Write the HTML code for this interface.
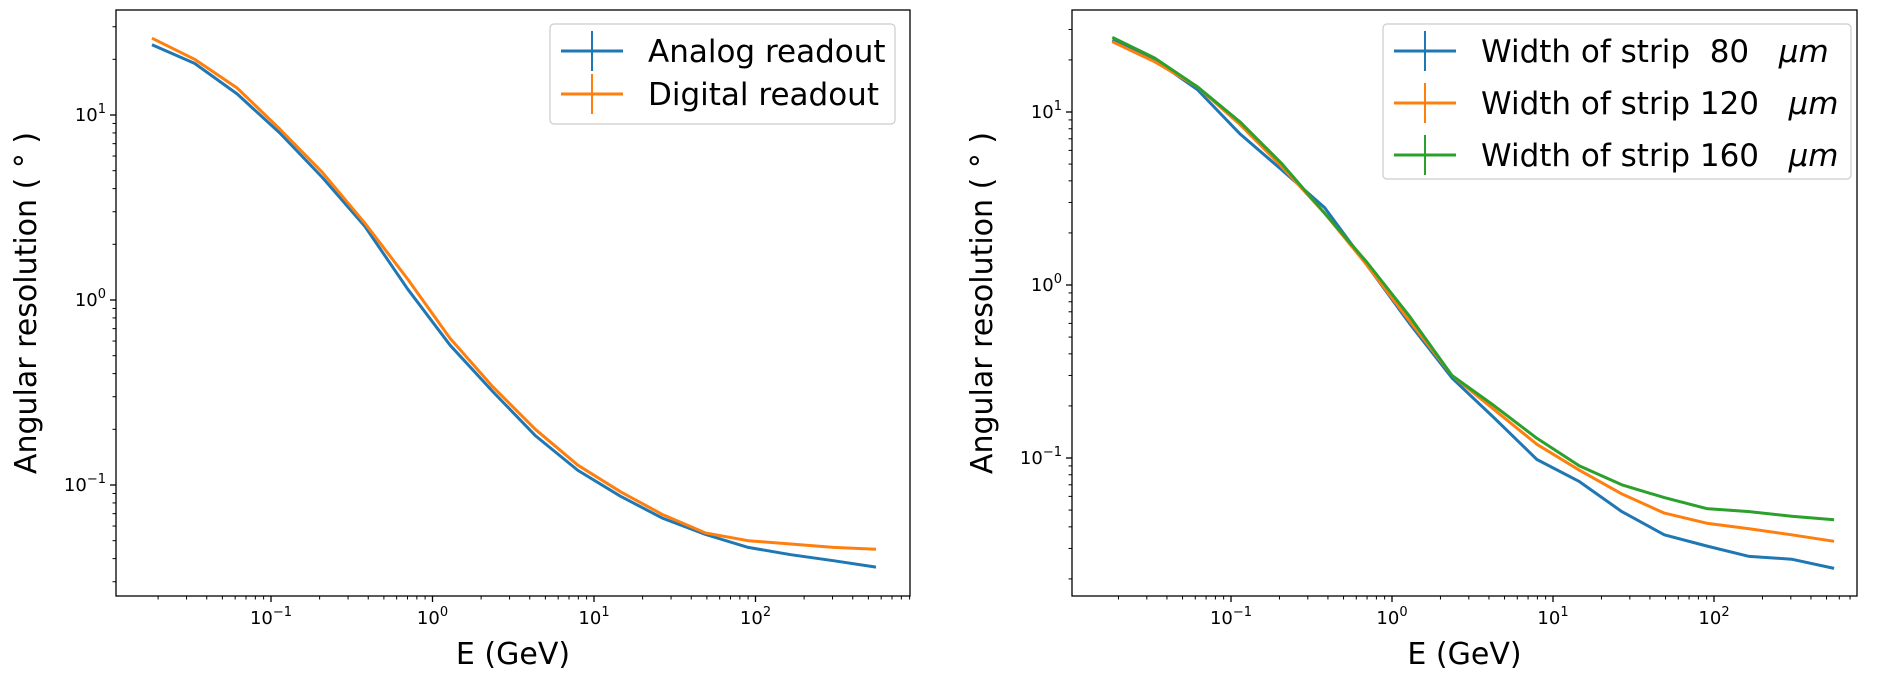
<!DOCTYPE html>
<html><head><meta charset="utf-8"><style>
html,body{margin:0;padding:0;background:#fff;}
svg{display:block;font-family:"DejaVu Sans","Liberation Sans",sans-serif;}
</style></head><body>
<svg id="s" width="1893" height="692" viewBox="0 0 1893 692" xmlns="http://www.w3.org/2000/svg"></svg>
<script>
const S=document.getElementById('s');let h='';
const ks=[...Array(18).keys()].map(k=>-1.737+k*0.2637);
function panel(o){
 const {L,R,T,B,x0,dx,y0,dy,series,leg}=o;
 const X=l=>x0+dx*l, Y=v=>y0-dy*Math.log10(v);
 h+=`<clipPath id="c${L}"><rect x="${L}" y="${T}" width="${R-L}" height="${B-T}"/></clipPath>`;
 h+=`<g clip-path="url(#c${L})">`;
 for(const s of series){
  const p=s.v.map((v,i)=>`${X(ks[i]).toFixed(1)},${Y(v).toFixed(1)}`).join(' ');
  h+=`<polyline points="${p}" fill="none" stroke="${s.c}" stroke-width="3" stroke-linejoin="round"/>`;
 }
 h+='</g>';
 for(let d=-2;d<=3;d++){for(let m=1;m<10;m++){const x=X(d+Math.log10(m));if(x<L||x>R)continue;
  const len=m==1?6:3.5;h+=`<line x1="${x}" y1="${B}" x2="${x}" y2="${B+len}" stroke="#000" stroke-width="${m==1?1.3:1}"/>`;
  if(m==1&&d>=-1&&d<=2){h+=`<text x="${x}" y="${B+28}" font-size="18" text-anchor="middle">10<tspan font-size="13" dy="-8">${d<0?'−1':d}</tspan></text>`;}}}
 for(let d=-3;d<=2;d++){for(let m=1;m<10;m++){const y=Y(m*Math.pow(10,d));if(y<T||y>B)continue;
  const len=m==1?6:3.5;h+=`<line x1="${L}" y1="${y}" x2="${L-len}" y2="${y}" stroke="#000" stroke-width="${m==1?1.3:1}"/>`;
  if(m==1){h+=`<text x="${L-10}" y="${y+6}" font-size="18" text-anchor="end">10<tspan font-size="13" dy="-8">${d<0?'−1':d}</tspan></text>`;}}}
 h+=`<rect x="${L}" y="${T}" width="${R-L}" height="${B-T}" fill="none" stroke="#000" stroke-width="1.3"/>`;
 h+=`<text x="${(L+R)/2}" y="664" font-size="30" text-anchor="middle">E (GeV)</text>`;
 const cy=(T+B)/2;h+=`<text transform="translate(${L-80},${cy}) rotate(-90)" font-size="30" text-anchor="middle">Angular resolution ( ° )</text>`;
 const [lx,ly,lw,lh]=leg.box;
 h+=`<rect x="${lx}" y="${ly}" width="${lw}" height="${lh}" rx="4" fill="#fff" stroke="#ccc" stroke-width="1.2"/>`;
 series.forEach((s,i)=>{const y=ly+27+i*leg.step;
  h+=`<line x1="${lx+11}" y1="${y}" x2="${lx+73}" y2="${y}" stroke="${s.c}" stroke-width="3"/>`;
  h+=`<line x1="${lx+42}" y1="${y-20}" x2="${lx+42}" y2="${y+20}" stroke="${s.c}" stroke-width="2"/>`;
  h+=`<text x="${lx+98}" y="${y+11}" font-size="31" xml:space="preserve">${s.n}</text>`;});
}
const B='#1f77b4',O='#ff7f0e',G='#2ca02c';
panel({L:116,R:910,T:10,B:596,x0:432.5,dx:161.5,y0:300,dy:185,
 series:[{c:B,n:'Analog readout',v:[24,19,13,8,4.6,2.5,1.15,0.57,0.32,0.185,0.12,0.087,0.066,0.054,0.046,0.042,0.039,0.036]},
 {c:O,n:'Digital readout',v:[26,20,14,8.4,4.9,2.6,1.3,0.62,0.34,0.2,0.128,0.092,0.069,0.055,0.05,0.048,0.046,0.045]}],
 leg:{box:[550,24,345,100],step:43}});
panel({L:1072,R:1857,T:10,B:596,x0:1392,dx:161,y0:285,dy:173,
 series:[{c:B,n:'Width of strip&#160;&#160;80&#160;&#160;&#160;<tspan font-style="italic">μm</tspan>',v:[26,20,13.5,7.5,4.6,2.8,1.3,0.6,0.29,0.17,0.098,0.073,0.049,0.036,0.031,0.027,0.026,0.023]},
 {c:O,n:'Width of strip 120&#160;&#160;&#160;<tspan font-style="italic">μm</tspan>',v:[25.5,19.5,14,8.5,4.8,2.6,1.3,0.62,0.3,0.19,0.12,0.085,0.062,0.048,0.042,0.039,0.036,0.033]},
 {c:G,n:'Width of strip 160&#160;&#160;&#160;<tspan font-style="italic">μm</tspan>',v:[27,20.5,14,8.8,5,2.6,1.35,0.66,0.3,0.2,0.13,0.09,0.07,0.059,0.051,0.049,0.046,0.044]}],
 leg:{box:[1383,24,468,155],step:52}});
S.innerHTML=h;
</script>
</body></html>
